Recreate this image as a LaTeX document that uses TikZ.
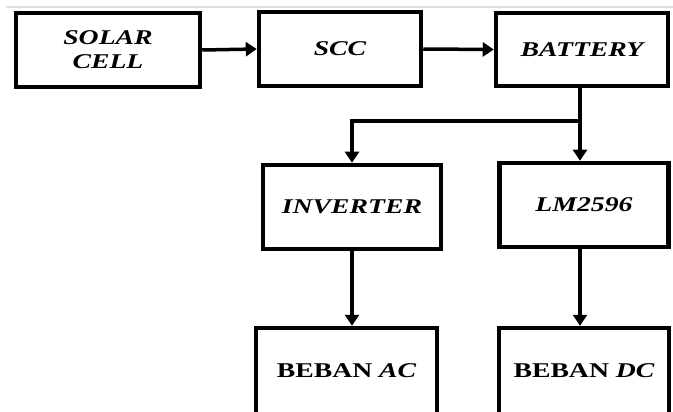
\documentclass[tikz,border=0pt]{standalone}
\usepackage{fontspec}
\setmainfont{Liberation Serif}[FakeStretch=1.32]
\usetikzlibrary{arrows.meta}
\begin{document}
\begin{tikzpicture}[x=1pt,y=-1pt,
  blk/.style={draw=black,line width=4.5pt,rectangle,inner sep=0pt,align=center,
    font=\fontsize{21}{24}\selectfont\bfseries\itshape},
  conn/.style={line width=3.5pt,-{Triangle[width=14pt,length=11pt]}}]
\useasboundingbox (0,0) rectangle (673,412);
\clip (0,0) rectangle (673,412);
\draw[gray!25,line width=2pt] (6,7) -- (673,7);
\node[blk,minimum width=184pt,minimum height=74pt] (solar) at (108,50) {SOLAR\\CELL};
\node[blk,minimum width=162pt,minimum height=74pt] (scc) at (340,49) {SCC};
\node[blk,minimum width=172pt,minimum height=73pt] (bat) at (582,49.5) {BATTERY};
\node[blk,minimum width=178pt,minimum height=84pt] (inv) at (352,207) {INVERTER};
\node[blk,minimum width=169pt,minimum height=84pt] (lm) at (584,205) {LM2596};
\node[blk,minimum width=181pt,minimum height=86pt] (ac) at (346.5,371) {\upshape BEBAN \itshape AC};
\node[blk,minimum width=170pt,minimum height=86pt] (dc) at (584,371) {\upshape BEBAN \itshape DC};
\coordinate (j) at (580,121);
\draw[conn] (solar.east) -- (scc.west);
\draw[conn] (scc.east) -- (bat.west);
\draw[conn] (bat.south -| j) -- (lm.north -| j);
\draw[conn] (j) -| (inv.north);
\draw[conn] (inv.south) -- (inv.south |- ac.north);
\draw[conn] (lm.south -| j) -- (dc.north -| j);
\end{tikzpicture}
\end{document}
